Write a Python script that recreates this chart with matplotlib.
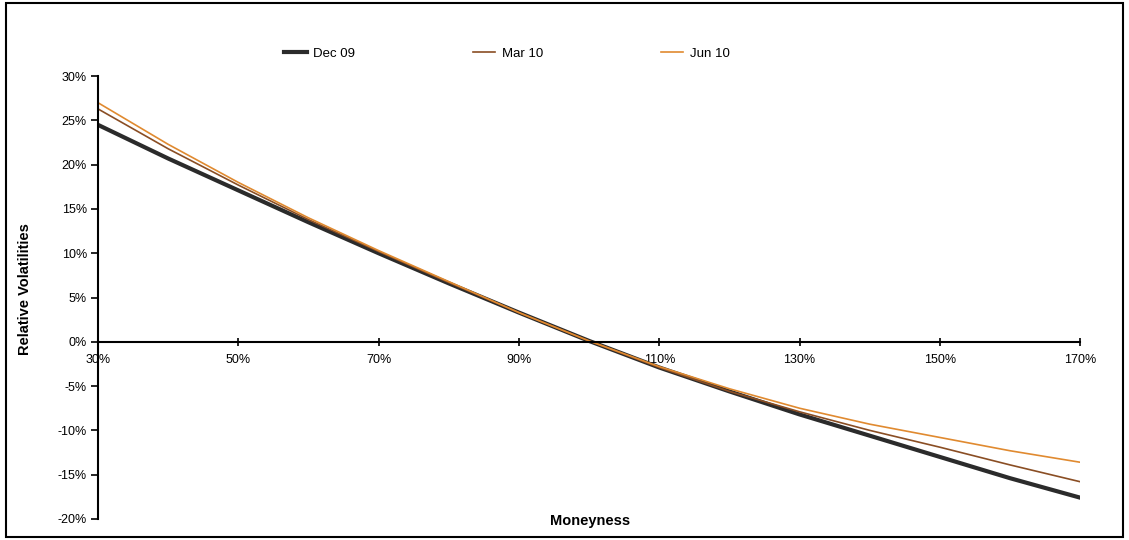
import matplotlib.pyplot as plt
from matplotlib.patches import Rectangle
from matplotlib.ticker import FuncFormatter

plt.rcParams['font.family'] = ['Liberation Sans', 'DejaVu Sans']

# moneyness grid (%) and relative vols (%)
moneyness = [30, 40, 50, 60, 70, 80, 90, 100, 110, 120, 130, 140, 150, 160, 170]
dec09 = [24.5, 20.7, 17.1, 13.5, 10.0, 6.6, 3.3, 0.1, -2.9, -5.6, -8.2, -10.6, -13.0, -15.4, -17.6]
mar10 = [26.3, 21.8, 17.7, 13.8, 10.2, 6.7, 3.3, 0.1, -2.9, -5.6, -7.9, -10.0, -11.9, -13.9, -15.8]
jun10 = [27.0, 22.3, 18.0, 14.0, 10.3, 6.8, 3.3, 0.1, -2.8, -5.3, -7.5, -9.3, -10.8, -12.3, -13.6]
series_names = ['Dec 09', 'Mar 10', 'Jun 10']

fig = plt.figure(figsize=(11.29, 5.4), dpi=100)
ax = fig.add_axes([0.0868, 0.039, 0.87, 0.82])

ax.plot(moneyness, dec09, color='#2b2b2b', lw=3.0, label=series_names[0])
ax.plot(moneyness, mar10, color='#8a4e24', lw=1.2, label=series_names[1])
ax.plot(moneyness, jun10, color='#e08a30', lw=1.2, label=series_names[2])

ax.set_xlim(30, 170)
ax.set_ylim(-20, 30)
ax.set_xticks(range(30, 171, 20))
ax.set_yticks(range(-20, 31, 5))
pct = FuncFormatter(lambda v, p: f'{v:.0f}%')
ax.xaxis.set_major_formatter(pct)
ax.yaxis.set_major_formatter(pct)

ax.spines['top'].set_visible(False)
ax.spines['right'].set_visible(False)
ax.spines['bottom'].set_position(('data', 0))
ax.spines['bottom'].set_linewidth(1.5)
ax.spines['left'].set_linewidth(1.5)
ax.tick_params(axis='x', direction='inout', length=6, width=1.2, labelsize=9, pad=6)
ax.tick_params(axis='y', direction='out', length=5, width=1.2, labelsize=9, pad=3)

fig.text(0.022, 0.465, 'Relative Volatilities', rotation=90, ha='center', va='center',
         fontsize=10.5, fontweight='bold')
fig.text(0.523, 0.035, 'Moneyness', ha='center', va='center', fontsize=10.5, fontweight='bold')

leg = fig.legend(loc='center', bbox_to_anchor=(0.449, 0.9), ncol=3, frameon=False,
                 fontsize=9.5, handlelength=1.7, columnspacing=8.9, handletextpad=0.5)

# outer chart frame
fig.patches.append(Rectangle((0.005, 0.005), 0.99, 0.99, transform=fig.transFigure,
                             fill=False, edgecolor='black', lw=1.5))

fig.savefig('out.png', dpi=100)
